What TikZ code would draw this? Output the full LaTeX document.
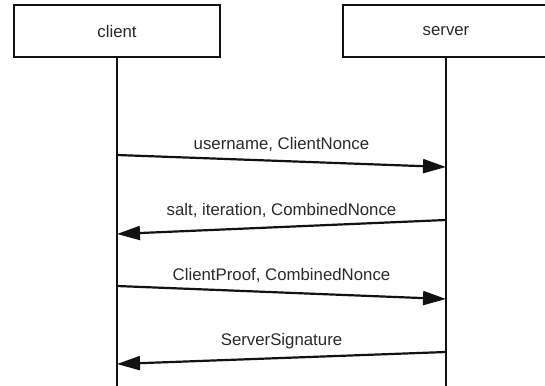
\documentclass[tikz,border=0pt]{standalone}
\usepackage{fontspec}
\setmainfont{Liberation Sans}
\usetikzlibrary{arrows.meta}
\definecolor{ink}{HTML}{121212}
\definecolor{txt}{HTML}{2A2A2A}
\begin{document}
\begin{tikzpicture}[x=1pt,y=-1pt,
  actor/.style={draw=ink,line width=2.5pt,fill=white,minimum width=206pt,minimum height=52pt,
    inner sep=0pt,text=txt,font=\fontsize{16.8}{19}\selectfont},
  lifeline/.style={draw=ink,line width=2.2pt},
  msg/.style={draw=ink,line width=2.2pt,-{Triangle[length=23pt,width=14pt]}},
  msglabel/.style={text=txt,font=\fontsize{16.8}{19}\selectfont,inner sep=0pt,yshift=17pt}]
\clip (0,0) rectangle (545,385);
\fill[white] (0,0) rectangle (545,385);

% participants
\node[actor] (client) at (117,31) {client};
\node[actor] (server) at (446,31) {server};

% lifeline ends
\coordinate (cEnd) at (117,386);
\coordinate (sEnd) at (446,386);
\draw[lifeline] (client.south) -- (cEnd);
\draw[lifeline] (server.south) -- (sEnd);

% message end points on the lifelines
\coordinate (c1) at (117,155);  \coordinate (s1) at (446,167);
\coordinate (s2) at (446,220);  \coordinate (c2) at (117,234);
\coordinate (c3) at (117,286);  \coordinate (s3) at (446,299);
\coordinate (s4) at (446,352);  \coordinate (c4) at (117,364);

% messages
\draw[msg] (c1) -- node[msglabel,midway] {username, ClientNonce} (s1);
\draw[msg] (s2) -- node[msglabel,midway] {salt, iteration, CombinedNonce} (c2);
\draw[msg] (c3) -- node[msglabel,midway] {ClientProof, CombinedNonce} (s3);
\draw[msg] (s4) -- node[msglabel,midway] {ServerSignature} (c4);
\end{tikzpicture}
\end{document}
